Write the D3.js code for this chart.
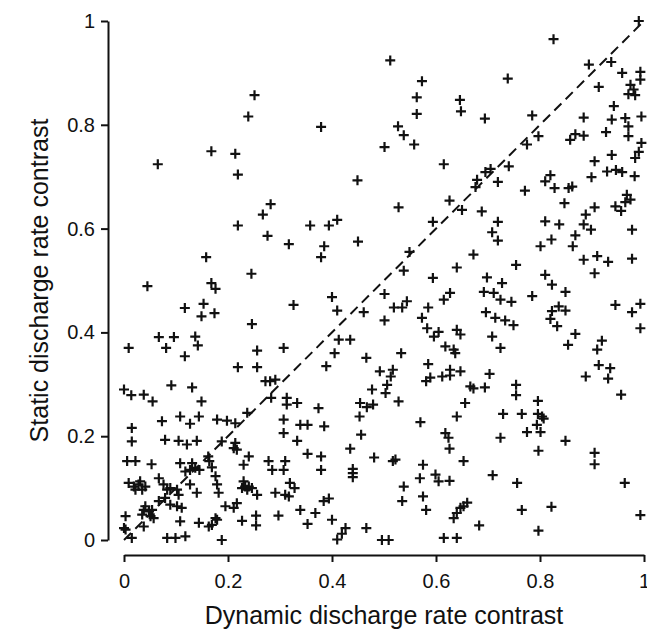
<!DOCTYPE html>
<html>
<head>
<meta charset="utf-8">
<script src="https://cdn.jsdelivr.net/npm/d3@7"></script>
<style>
  body { margin: 0; background: #fff; }
  svg { display: block; }
  text { font-family: "Liberation Sans", Arial, sans-serif; fill: #111; }
</style>
</head>
<body>
<svg width="647" height="638"></svg>
<script>
const xTicks = [0, 0.2, 0.4, 0.6, 0.8, 1];
const yTicks = [0, 0.2, 0.4, 0.6, 0.8, 1];
const xTitle = "Dynamic discharge rate contrast";
const yTitle = "Static discharge rate contrast";
const diagonal = [[0, 0], [1, 1]];

// [dynamic contrast, static contrast]
const points = [
  [0.251,0.857],[0.239,0.816],
  [0.512,0.924],[0.573,0.884],[0.563,0.853],[0.646,0.848],[0.648,0.826],[0.563,0.821],[0.379,0.796],[0.527,0.797],[0.538,0.780],[0.501,0.757],[0.558,0.762],
  [0.99,1.0],[0.826,0.965],[0.738,0.889],[0.894,0.916],[0.937,0.921],[0.958,0.900],[0.993,0.902],[0.993,0.887],[0.913,0.873],[0.974,0.877],[0.980,0.868],[0.970,0.859],[0.983,0.857],[0.694,0.812],[0.785,0.818],[0.942,0.836],[0.938,0.810],[0.964,0.813],[0.995,0.816],[0.970,0.797],[0.884,0.814],[0.884,0.779],[0.858,0.771],[0.868,0.782],[0.927,0.786],[0.970,0.778],[0.797,0.778],[0.775,0.762],[0.995,0.765],
  [0.168,0.749],[0.214,0.744],[0.065,0.724],[0.219,0.704],[0.282,0.647],[0.267,0.627],[0.219,0.606],[0.276,0.586],[0.317,0.570],[0.158,0.545],[0.245,0.513],[0.045,0.489],[0.168,0.495],[0.176,0.484],
  [0.615,0.724],[0.449,0.693],[0.528,0.641],[0.626,0.654],[0.650,0.636],[0.594,0.613],[0.358,0.606],[0.394,0.606],[0.410,0.617],[0.450,0.575],[0.385,0.566],[0.379,0.545],[0.549,0.555],[0.538,0.519],[0.594,0.505],[0.640,0.525],
  [0.938,0.742],[0.983,0.736],[0.99,0.748],[0.905,0.730],[0.929,0.710],[0.946,0.713],[0.958,0.709],[0.982,0.701],[0.899,0.699],[0.740,0.720],[0.705,0.715],[0.695,0.709],[0.679,0.694],[0.676,0.680],[0.719,0.690],[0.820,0.703],[0.810,0.691],[0.828,0.678],[0.862,0.681],[0.855,0.678],[0.771,0.673],[0.967,0.665],[0.974,0.656],[0.964,0.651],[0.945,0.643],[0.956,0.634],[0.688,0.633],[0.847,0.649],[0.905,0.641],[0.888,0.627],[0.884,0.608],[0.898,0.598],[0.719,0.613],[0.708,0.593],[0.719,0.577],[0.810,0.614],[0.837,0.608],[0.868,0.587],[0.977,0.598],[0.822,0.579],[0.801,0.566],[0.863,0.566],[0.672,0.550],[0.754,0.530],[0.884,0.540],[0.910,0.547],[0.931,0.536],[0.977,0.542],[0.905,0.514],[0.698,0.506],[0.727,0.495],[0.810,0.511],[0.823,0.492],
  [0.117,0.447],[0.153,0.455],[0.149,0.431],[0.174,0.437],[0.246,0.416],[0.067,0.391],[0.096,0.391],[0.137,0.392],[0.142,0.375],[0.081,0.370],[0.009,0.370],[0.117,0.354],[0.256,0.365],[0.219,0.333],[0.256,0.333],[0.307,0.370],[0.272,0.306],[0.281,0.306],[0.291,0.309],[0.091,0.298],[0.131,0.294],[0.0,0.290],[0.014,0.279],[0.038,0.280],[0.055,0.267],[0.149,0.267],[0.283,0.274],[0.313,0.274],[0.313,0.261],[0.108,0.238],[0.127,0.224],[0.144,0.238],[0.073,0.229],[0.179,0.232],[0.198,0.230],[0.214,0.225],[0.237,0.245],[0.015,0.216],[0.307,0.232],
  [0.326,0.453],[0.400,0.468],[0.410,0.442],[0.461,0.439],[0.501,0.474],[0.519,0.448],[0.535,0.448],[0.544,0.460],[0.501,0.423],[0.585,0.448],[0.573,0.428],[0.615,0.463],[0.627,0.476],[0.583,0.408],[0.596,0.392],[0.605,0.401],[0.640,0.405],[0.647,0.396],[0.618,0.373],[0.634,0.367],[0.637,0.360],[0.413,0.386],[0.435,0.386],[0.405,0.360],[0.389,0.335],[0.466,0.351],[0.533,0.360],[0.585,0.339],[0.492,0.325],[0.517,0.328],[0.513,0.315],[0.506,0.299],[0.503,0.283],[0.477,0.290],[0.581,0.306],[0.589,0.313],[0.612,0.315],[0.627,0.317],[0.647,0.325],[0.627,0.328],[0.528,0.267],[0.333,0.264],[0.374,0.254],[0.454,0.264],[0.467,0.256],[0.479,0.261],[0.453,0.238],[0.339,0.222],[0.353,0.222],[0.385,0.219],[0.570,0.227],[0.640,0.238],
  [0.692,0.478],[0.711,0.476],[0.724,0.463],[0.745,0.459],[0.785,0.470],[0.849,0.478],[0.823,0.441],[0.836,0.450],[0.849,0.442],[0.820,0.426],[0.833,0.412],[0.696,0.439],[0.714,0.428],[0.733,0.423],[0.749,0.414],[0.708,0.392],[0.724,0.370],[0.868,0.397],[0.854,0.376],[0.945,0.453],[0.977,0.439],[0.993,0.455],[0.993,0.408],[0.919,0.384],[0.910,0.367],[0.913,0.337],[0.935,0.331],[0.931,0.311],[0.888,0.315],[0.956,0.280],[0.703,0.320],[0.666,0.296],[0.672,0.292],[0.694,0.294],[0.656,0.264],[0.754,0.299],[0.754,0.279],[0.796,0.268],[0.729,0.243],[0.765,0.243],[0.796,0.243],[0.804,0.238],[0.807,0.234],[0.794,0.222],
  [0.015,0.190],[0.079,0.193],[0.105,0.191],[0.121,0.184],[0.140,0.191],[0.188,0.190],[0.214,0.187],[0.211,0.177],[0.217,0.174],[0.240,0.161],[0.307,0.206],[0.006,0.152],[0.022,0.152],[0.053,0.146],[0.108,0.148],[0.131,0.148],[0.137,0.139],[0.127,0.135],[0.118,0.132],[0.162,0.161],[0.164,0.152],[0.169,0.140],[0.145,0.135],[0.176,0.123],[0.179,0.107],[0.182,0.091],[0.278,0.152],[0.307,0.135],[0.285,0.135],[0.310,0.152],[0.230,0.145],[0.067,0.119],[0.083,0.097],[0.089,0.100],[0.076,0.107],[0.009,0.110],[0.019,0.103],[0.028,0.107],[0.022,0.097],[0.035,0.097],[0.041,0.103],[0.031,0.113],[0.102,0.097],[0.105,0.087],[0.127,0.107],[0.140,0.091],[0.230,0.113],[0.233,0.103],[0.240,0.103],[0.246,0.100],[0.227,0.100],[0.237,0.097],[0.256,0.087],[0.291,0.091],[0.310,0.087],[0.195,0.065],[0.211,0.062],[0.217,0.071],[0.038,0.058],[0.041,0.065],[0.048,0.055],[0.054,0.058],[0.051,0.046],[0.057,0.042],[0.035,0.049],[0.067,0.075],[0.079,0.081],[0.089,0.068],[0.102,0.065],[0.111,0.062],[0.003,0.046],[0.0,0.023],[0.003,0.020],[0.038,0.026],[0.015,0.004],[0.083,0.004],[0.099,0.004],[0.118,0.007],[0.188,0.0],[0.108,0.036],[0.144,0.033],[0.163,0.026],[0.169,0.029],[0.176,0.042],[0.179,0.039],[0.227,0.037],[0.254,0.047],[0.254,0.028],[0.297,0.047],
  [0.333,0.191],[0.456,0.203],[0.618,0.206],[0.624,0.197],[0.626,0.176],[0.435,0.176],[0.353,0.166],[0.379,0.161],[0.379,0.135],[0.481,0.159],[0.517,0.152],[0.522,0.155],[0.440,0.137],[0.440,0.129],[0.440,0.121],[0.575,0.145],[0.569,0.119],[0.599,0.126],[0.605,0.113],[0.626,0.114],[0.653,0.152],[0.319,0.110],[0.328,0.100],[0.317,0.084],[0.538,0.103],[0.535,0.075],[0.575,0.084],[0.581,0.058],[0.394,0.080],[0.384,0.075],[0.339,0.058],[0.368,0.052],[0.353,0.031],[0.400,0.039],[0.426,0.023],[0.419,0.012],[0.410,0.001],[0.466,0.023],[0.496,0.0],[0.509,0.0],[0.615,0.004],[0.640,0.004],[0.634,0.042],[0.640,0.052],[0.647,0.062],[0.653,0.065],
  [0.724,0.197],[0.775,0.208],[0.801,0.208],[0.797,0.172],[0.849,0.191],[0.905,0.168],[0.905,0.146],[0.709,0.125],[0.756,0.110],[0.963,0.110],[0.660,0.072],[0.765,0.058],[0.822,0.064],[0.683,0.028],[0.797,0.018],[0.993,0.048]
];

const svg = d3.select("svg");

const x = d3.scaleLinear().domain([0, 1]).range([124, 644]);
const y = d3.scaleLinear().domain([0, 1]).range([540, 21]);

// dashed unity line
const line = d3.line()
    .x(d => x(d[0]))
    .y(d => y(d[1]));

svg.append("path")
    .attr("d", line(diagonal))
    .attr("fill", "none")
    .attr("stroke", "#111")
    .attr("stroke-width", 2)
    .attr("stroke-dasharray", "10,6");

// plus markers
svg.append("g")
  .selectAll("path")
  .data(points)
  .join("path")
    .attr("transform", d => `translate(${x(d[0])},${y(d[1])})`)
    .attr("d", "M-5,0H5M0,-5V5")
    .attr("stroke", "#111")
    .attr("stroke-width", 2.2)
    .attr("fill", "none");

// axes, offset from the data area
const fmt = d3.format("~g");

const gx = svg.append("g")
    .attr("transform", "translate(0,555)")
    .call(d3.axisBottom(x).tickValues(xTicks).tickFormat(fmt)
        .tickSize(7).tickSizeOuter(0).tickPadding(12));

const gy = svg.append("g")
    .attr("transform", "translate(108,0)")
    .call(d3.axisLeft(y).tickValues(yTicks).tickFormat(fmt)
        .tickSize(7).tickSizeOuter(0).tickPadding(6));

[gx, gy].forEach(g => {
    g.select(".domain").attr("stroke", "#111").attr("stroke-width", 2);
    g.selectAll(".tick line").attr("stroke", "#111").attr("stroke-width", 2);
    g.selectAll(".tick text")
        .attr("fill", "#111")
        .style("font-size", "20px")
        .style("font-family", '"Liberation Sans", Arial, sans-serif');
});

svg.append("text")
    .attr("x", (x(0) + x(1)) / 2)
    .attr("y", 624)
    .attr("text-anchor", "middle")
    .style("font-size", "25px")
    .text(xTitle);

svg.append("text")
    .attr("transform", `translate(48,${(y(0) + y(1)) / 2}) rotate(-90)`)
    .attr("text-anchor", "middle")
    .style("font-size", "25px")
    .text(yTitle);
</script>
</body>
</html>
